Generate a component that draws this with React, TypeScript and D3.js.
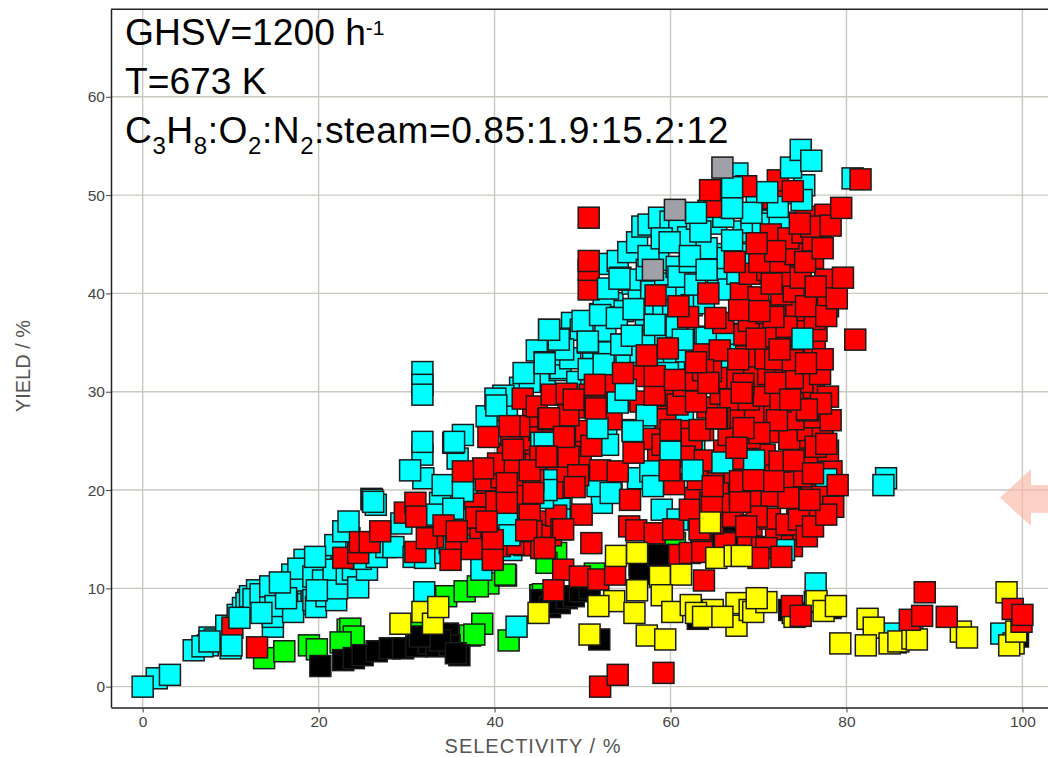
import * as d3 from "d3";
import { useEffect, useRef } from "react";

type Pt = [number, number];

const xTicks = [0, 20, 40, 60, 80, 100];
const yTicks = [0, 10, 20, 30, 40, 50, 60];

const greenPoints: Pt[] = [
  [13.8,2.9],[16.1,3.6],[18.9,4.2],[19.8,3.8],[23.3,5.8],[23.6,5.9],[24,5.1],[22.5,4.5],[31.4,5.5],[34.5,9.2],
  [36.6,9.7],[39.3,10.5],[38.1,10.2],[41.3,11.3],[41.2,11.4],[38.6,6.4],[37.2,5.2],[37.7,5.3],[41.6,4.7],
  [45.2,9.3],[45.5,9.4],[47,13.6],[45.9,12.6],[51.4,11.5],[56.5,12.4],[60.5,14.6],[45.9,15.4],
];

const blackPoints: Pt[] = [
  [20.2,2.1],[22.8,2.7],[24,2.9],[25,3.2],[26.6,3.6],[28.1,3.9],[29.6,3.9],[31.1,4.1],[32.5,4.4],[33.4,4.1],
  [34.7,5.4],[34.9,4.2],[36,3.2],[33.8,4.7],[31.5,5.1],[35.6,3.4],[45.3,8.8],[46.3,8.1],[47.4,8.5],[48.2,9],
  [49,9.2],[49.7,9.7],[50.8,10],[51.9,4.8],[56.5,11.5],[58.6,13.4],[66.5,15.4],[65.9,14.8],[99.5,5.1],[73.5,7.8],
  [63.1,6.9],[78.2,8],[85.6,4.5],
];

const cyanBackPoints: Pt[] = [
  [1.6,0.85],[3.1,1.2],[5.8,3.7],[7.4,4.2],[7.6,5],[8.2,4.8],[10,3.9],[9.5,6.2],[10.8,7.3],[11.4,8],[12,8.8],[13.6,8.3],
  [14.2,7.8],[15.5,8.6],[16.1,9.6],[16.7,10.2],[17.3,9.4],[18.2,9.8],[18.8,8.4],[19.2,9.8],[20.2,11.4],[20.8,12.3],
  [21.2,10.9],[22.6,12.8],[23.7,13.4],[18.6,12],[17,11.4],[16,9.8],[23.5,15.1],[25.2,12.8],
  [14.8,6.1],[14.8,7.1],[11.8,8.5],[12.2,9.2],
  [13,9.8],[12.6,8.9],[13.4,9.4],[14.5,9.2],[14.5,10.2],[15.1,8.2],[16.4,10.5],[17.1,7.6],[17.9,10.8],[18.4,12.9],
  [17.7,12],[19.4,8.8],[19.7,8.1],[19.4,11.2],[20.5,10.8],[20.9,9.2],[22,8.8],[22.1,10],[21.7,11.9],[23.2,11.5],
  [23.9,11.9],[24.5,10.1],[25.5,11.9],[24.8,13],[26.6,13.2],[21.9,14.4],[22.8,15.8],[27.7,14.2],[28.5,14.2],
  [26,19.1],[26.1,19],[26.5,18.5],[29.4,16.6],[30.8,13.2],[32.1,13.1],[34.4,13.6],[34.9,14.6],[37.6,14.6],[37.6,15.4],
  [38.5,11.9],[33.8,18.7],[33,17.5],[35.7,17],[31.9,21.2],[31.8,23.6],[36.4,25.6],[35.8,23.2],[35.3,24.8],
  [41.9,13.9],[43.4,14.4],[41.4,17.3],[38.3,20.4],[36.4,20],[41.4,28.1],[45.7,31.7],[47.4,32.2],[47.5,32.4],
  [42.9,30.4],[44,31],[41,29.6],[46.7,33.8],[44.8,34.2],[48.8,37],[49.8,36.3],[50,37.2],[48.6,33.4],[49.4,31],
  [52.9,43],[54,43.3],[55.2,44.2],[56.2,45.2],[56.8,46.8],[57.5,47],[58.7,47.7],[60,47.3],[61,46.7],[62,45.7],[63,47.6],
  [52.6,36.2],[53.4,39],[54.6,38.2],[55.7,41],[56.4,39.6],[57.2,37.8],[57.8,40.2],[58.6,43.4],[59.4,41],[60,39.8],
  [61.2,41.8],[61.8,40.2],[62.4,38.8],[63.2,41.2],[63.8,39],[64.8,44],[65.4,42],[66.2,43.6],[66.6,40.4],[67.6,42],
  [68.3,46.3],[68.8,44],[65.6,49.8],[64.3,48.4],[69.8,49.6],[70.2,45.6],[71.6,47.4],[73.4,47.2],[73.2,50.2],[75.2,51],
  [51.2,33.8],[53,34],[55,33],[56.6,33.8],[57.8,35.2],[59.4,35.8],[59,33],[60.4,33.2],[62.2,35],[63,32],[51,30.8],[52.4,30.2],
  [47.8,34.3],[47.3,35.4],[46.2,36.3],[50.8,32.3],[52.4,32.8],[50.6,35],[52,37.9],[54.3,41.6],[55.4,41.4],[52.4,39.7],
  [56.5,31.9],[54.9,30.9],[54.4,34.8],[55.9,38.4],[58.2,36.8],[59.2,38],[60.3,38.3],[60.7,36.8],[60.9,35.3],[61.8,34.1],
  [61.4,31.2],[57.3,42.4],[57.5,43.8],[59,45.6],[60.7,42.7],[60.9,41.7],[64.1,44.6],[65.2,47.1],[66,47.8],[64.1,42.4],
  [67,48.7],[67.6,52.2],[69.2,47.2],[70.5,47.1],[72.4,47],[62.8,40.9],[62.2,43.2],
  [63.9,35.6],[66.4,35.3],[66.2,33.1],[66.7,34.6],[69.4,34],[73.1,37.1],[64.1,35.5],[66.4,35.9],[66.4,32.9],[69.4,30.4],
  [59.7,31.9],[61.4,27.8],[62.7,24.3],[65.4,22.4],[53.3,21],[52.2,18.7],[47.6,19.3],[47.4,18.1],[52.7,25.8],[52.9,24.6],
  [80.7,51.7],[84.5,21.2],[85.5,5.4],[97.6,5.4],[76.4,8.6],[47.4,17],[45.4,19.8],[57.3,27.3],[55.7,26.1],[56.3,21.2],
];

const redBackPoints: Pt[] = [
  [10.2,6],
  [33,15.2],[35.6,14.8],[36.2,16.4],[38.4,15.2],[39.6,16.3],[40.6,14.3],[41.1,15.7],[42.6,14.5],[43.1,16.6],[44.5,14.4],
  [43.5,18.2],[45,16.8],[46.4,15.4],[47,17.4],[46.6,20.2],[45.2,21.6],[43.2,20.9],[42.4,19.4],[41.2,19.6],[39.2,19.7],
  [37.8,18.6],[39,21],[40.8,21.3],[41.5,23.7],[43.4,23.1],[44.6,22.6],[43,25.1],[45.1,26.1],[44.4,27.5],[46.6,25.1],
  [47.6,23.3],[48.7,24.4],[47.2,21.9],[49.8,23.3],[50.2,26],[49.5,28.4],[51,24.5],[50.8,29.7],[52.7,29.2],[53.3,27.2],
  [53,31],[55,29.2],[56.2,31.6],[56.6,29],[58.4,28.3],[59.6,29.6],[59.4,27.2],[60.8,28.7],[61.5,30.6],[62.6,31.2],
  [61.5,26],[62.4,25.2],[64.2,28.4],[65.7,29.8],[66.3,31.4],[64.6,32.1],[63.5,15.4],[66.2,14.6],[68.8,15.2],[70.4,14.2],
  [72,15],[73.8,14.3],[75.1,16],[62.4,17.1],[64.8,16.6],[67.1,17.3],[69.2,16.4],[71.3,17.1],[73.2,16.5],[75.5,17.6],
  [62.8,19.2],[65.6,18.8],[67.9,19.6],[69.8,18.9],[71.5,19.4],[74.4,18.7],[76.1,19.6],[78.1,19.8],[60.4,20.6],[63.1,21.1],
  [65.4,20.7],[67.3,21.8],[69.6,21],[71.9,21.6],[73.6,20.8],[75.2,21.4],[77.3,20.9],[78.3,21.9],[58.6,23.2],[61.6,23.4],
  [63.9,23],[66.1,24],[68.2,23.2],[70.7,23.6],[72.4,22.9],[74.8,24.1],[76.1,23.2],[77.9,24],[57.6,25.2],[59.1,24.6],
  [63.7,26.1],[66.6,25.6],[69,25.3],[71.2,25.9],[73.5,25.2],[75.6,26.1],[77.3,25.6],[67.4,27.4],[69.6,27.8],[71.8,27.8],
  [74,27.2],[76.4,27.4],[78.2,27.1],[66.8,29.2],[68.9,29.2],[70.6,29.6],[72.5,29],[74.4,29.8],[76.3,30.4],[67.6,31.4],
  [69.5,31.6],[71.1,31.8],[73,32],[75,31],[77,31.8],[63.6,33.8],[65.6,34.2],[68.6,33.6],[70.8,33.4],[72.8,33.8],
  [75.2,33.9],[76.4,34.6],[68.4,35.8],[70.6,36.2],[72.6,35.7],[74.6,36.4],[76.6,36.2],[66,37],[68.9,37.2],[70.9,38],
  [73.1,37.9],[74.3,38.3],[76.4,37.4],[68,40],[70,39.6],[72.6,39.9],[74,40.2],[76.8,39.2],
  [69,42],[71,42.4],[73,41.8],[74.8,41.6],[77.6,41.4],[72.4,43.2],
  [74.2,44],[76.2,43.6],[71.4,46],[73.4,45.6],[75,46.2],[77,46.2],[75.4,47.8],[77.6,48],[71.7,49.7],
  [65,48.8],[64.5,50.5],[68.6,50.9],[72.2,51.5],
  [50.7,40.4],[50.7,42.4],[50.7,43.3],[50.7,47.7],
];

const cyanFrontPoints: Pt[] = [
  [6.8,4.1],[7.6,4.6],[10.1,4.2],[11,7],[13.5,7.5],[16.3,9],[15.6,10.6],[19.8,9.8],[19.6,13.2],[23.4,16.8],[26.2,18.8],
  [31.8,32],[31.8,30.7],[31.8,29.7],[31.8,24.9],[30.4,22],[34.1,20.5],[35.4,24.9],[35.7,17],[36.4,19.9],[39.1,27.5],
  [40.1,29.3],[43.3,31.9],[45.7,33],[45.9,21],[45.5,19.2],[45.3,24.8],[45.9,20],[41.4,17.2],[41.7,15.4],[40.2,28.6],
  [47.3,35.3],[46.2,36.3],[45.7,32.9],[50.6,35.1],[50.7,32.3],[52.4,32.8],[52,37.8],[53.9,37.5],[52.9,40.5],[54.2,41.5],
  [54.4,34.8],[55.6,35.7],[55.8,38.4],[58.2,36.8],[60.7,36.6],[54,28.9],[54.9,30.2],[57.3,27.6],[51.7,26.3],
  [55.7,26],[60,23.9],[62.5,22],[65.9,22.8],[69.5,23],[57.7,21.9],[58,20.4],[51.7,20.4],[53.2,19.7],[45.7,24.8],
  [59,18],[60.8,17],[61.4,35.3],[72.9,13.9],[77.7,21.1],[84.2,20.5],[76.5,10.5],[32,9.6],[42.5,6.1],[0,0],
  [35.3,18.1],[38,17.2],
];

const redFrontPoints: Pt[] = [
  [13,4],[22.8,13.1],[24.5,13.6],[24.7,14.7],[25.8,14.7],[27,15.8],[29.8,17.7],[31,18.7],[31.1,17.3],[31,13.7],
  [32.3,15.1],[34.2,16.4],[35,12.9],[37.4,14],[37.9,17.2],[39.8,14.9],[39.8,12.9],[39.3,25.4],[41.9,25.6],[42.8,26.5],
  [40.2,18.8],[40.4,22.7],[38.7,22.2],[42.3,22.7],[42.1,24.1],[44,17.5],[44.2,15.8],[45.3,14.1],[44.4,21],[45.2,23.4],
  [43.2,29.3],[44.8,28.5],[46.5,29.7],[46.1,27.2],[48.4,27.6],[48,25.3],[46.1,23.4],[48.4,23.4],[44.4,19.7],[41.4,20.7],
  [44,22],[41.4,18.7],[35.7,15.8],[39.1,16.8],[47.6,16],[43.6,15.9],[48.2,29.8],[36.4,21.9],[41.7,26.5],
  [49,29.2],[51.4,28.5],[51.4,30.7],[46.2,27.3],[47.9,25.4],[45.9,23.4],[49.5,21.5],[49.1,20.3],[52,22],[54,21.9],[55.8,23.8],
  [51.5,28.3],[55.4,19],[49.9,17.5],[47.8,16],[51,14.6],[55.3,16.3],[56.1,15.9],[45.7,14.1],[58.2,15.6],[60.3,16],
  [62.2,18],[64.5,18.7],[63.3,16],[63.3,26.1],[65.6,27.3],[59.9,22],[60,26.1],[47.8,11.9],[49.7,11.2],[51.8,10.9],
  [53.7,11.4],[61,13.4],[62.2,13.6],[63.6,13.7],[63.8,10.8],[69.8,17.3],[74.6,17],[73.4,19.2],[67.9,18.8],[64.7,18.5],
  [68.6,16.3],[70.9,14.1],[70,13.1],[72.6,13.2],[75.5,15.3],[76.2,16.3],[77.2,19.3],[79,20.5],[78.5,18.3],[77.7,17.5],
  [76.5,24.4],[77.7,24.7],[74,23],[71.7,20.9],[76.2,21.7],[67.9,20.9],[75.6,28.1],[72.1,27.1],[65.3,27.3],[70.1,25.8],
  [68.3,26.3],[67.5,24.3],[64.8,20.4],[75.8,19],[69.4,21],[77.9,29.5],[77.1,28.8],[75.5,28.2],[73.9,31.4],[71.9,30.9],
  [68.3,30.8],[68.1,29.9],[73.6,29.2],[65.2,27.3],[62.9,29],[58.2,29.7],[58.2,31.6],[60.5,31.2],[63.7,32.2],
  [54.6,31.9],[64.3,30.9],[62.9,33],[57.3,33.7],[59.7,34.4],[67.7,33.3],[71.9,33.3],[73.9,33.2],[77.3,33.3],[75.4,32.9],
  [69.8,35.4],[72,35.6],[73.2,36.6],[71.7,37.6],[72.4,34.3],[81,35.3],[67.8,38.3],[70.1,38.2],[65.1,37.5],[62,37.6],
  [64.3,40],[60.9,38.7],[58.3,39.8],[75.4,38.7],[77.9,38.7],[77.7,37.7],[78.9,39.5],[79.6,41.6],[76.5,40.7],[71.5,41],
  [67.3,43.2],[70.1,43.2],[75.3,43.2],[71.9,44.3],[69.8,45.1],[76.2,45.4],[77.3,44.6],[76,46.8],[78.2,46.9],[79.4,48.7],
  [74.7,47.1],
];

// the squares that sit on top of the red ones in the upper part of the cloud
const cyanTopPoints: Pt[] = [
  [75,35.4],[67,45.4],[59.9,45.2],[62.2,43.8],[64.1,42.4],[63.4,46.3],[62.9,48.2],[72.2,48.8],[74.9,49.5],
  [69.2,48.2],[67,48.7],[71,50.3],[67,50.8],[73.7,52.8],[74.8,54.6],[76,53.5],
];

const grayPoints: Pt[] = [[65.9,52.8],[60.5,48.5],[58,42.4]];

const yellowPoints: Pt[] = [
  [29.3,6.4],[31.8,7.6],[33,6.4],[33.6,8.1],[45,7.5],[53.8,13.3],[56.2,13.6],[64.5,16.7],[65.2,13.1],[67.3,13.3],[68.1,13.3],
  [58.8,11.2],[61.2,11.4],[56.2,9.8],[53.6,8.7],[51.8,8.2],[59,9.3],[55.9,7.5],[60.2,7.6],[62.3,8.3],[50.8,5.3],
  [57.3,5.2],[59.4,4.8],[64.8,7.8],[67.5,8.5],[67.5,6.2],[62.9,7.5],[63.7,7.1],[69,7.8],[69.4,7.6],[70.9,8.6],
  [69.8,9],[65.9,7.1],[73.9,7.5],[74.1,7.1],[76.6,8.7],[77.4,7.7],[78.8,8.2],[82.4,6.9],[83.1,6],[79.3,4.4],
  [82.2,4.2],[84.9,4.4],[85.9,4.6],[87.5,4.9],[88,4.8],[93,5.6],[93.7,5],[98.2,9.6],[99,4.4],[98.5,4.2],[99.3,5.6],
];

const redTopPoints: Pt[] = [
  [46.7,9.8],[73.9,50.4],[81.6,51.6],[73.8,8.2],[74.8,7.2],[88.9,9.6],[87.2,6.8],[88.6,7.2],[91.4,7.1],[99.9,6.6],[98.9,7.9],[100,7.3],
  [52,0],[54,1.2],[59.2,1.4],
];

// back to front, same order the points overlap in the picture
const layers: { points: Pt[]; fill: string }[] = [
  { points: greenPoints, fill: "#00ff00" },
  { points: blackPoints, fill: "#000000" },
  { points: cyanBackPoints, fill: "#00ffff" },
  { points: redBackPoints, fill: "#ff0000" },
  { points: cyanFrontPoints, fill: "#00ffff" },
  { points: redFrontPoints, fill: "#ff0000" },
  { points: cyanTopPoints, fill: "#00ffff" },
  { points: grayPoints, fill: "#a0a0a8" },
  { points: yellowPoints, fill: "#ffff00" },
  { points: redTopPoints, fill: "#ff0000" },
];

export default function App() {
  const ref = useRef<SVGSVGElement | null>(null);

  useEffect(() => {
    const width = 1048;
    const svg = d3.select(ref.current);
    svg.selectAll("*").remove();

    const x = d3.scaleLinear().domain([-3.6, 103]).range([111, 1048.8]);
    const y = d3.scaleLinear().domain([-2.1, 68.9]).range([707.3, 9.3]);
    const font = "'Liberation Sans', Arial, sans-serif";

    // gridlines
    const grid = svg.append("g").attr("stroke", "#c8c8c0").attr("stroke-width", 1.4);
    grid.selectAll(".gx").data(xTicks).join("line").attr("x1", (d) => x(d)).attr("x2", (d) => x(d)).attr("y1", 9).attr("y2", 707);
    grid.selectAll(".gy").data(yTicks).join("line").attr("x1", 111).attr("x2", width).attr("y1", (d) => y(d)).attr("y2", (d) => y(d));

    // markers
    const size = 21;
    layers.forEach((layer) => {
      svg.append("g")
        .selectAll("rect")
        .data(layer.points)
        .join("rect")
        .attr("x", (d) => x(d[0]) - size / 2)
        .attr("y", (d) => y(d[1]) - size / 2)
        .attr("width", size)
        .attr("height", size)
        .attr("fill", layer.fill)
        .attr("stroke", "#1a1a1a")
        .attr("stroke-width", 1.5);
    });

    // axes
    const axisX = svg.append("g").attr("transform", "translate(0,707.5)")
      .call(d3.axisBottom(x).tickValues(xTicks).tickSize(5).tickSizeOuter(0).tickPadding(3).tickFormat((d) => String(d)));
    const axisY = svg.append("g").attr("transform", "translate(111,0)")
      .call(d3.axisLeft(y).tickValues(yTicks).tickSize(5).tickSizeOuter(0).tickPadding(1).tickFormat((d) => String(d)));
    [axisX, axisY].forEach((a) => {
      a.attr("font-family", font).attr("font-size", 15.5);
      a.selectAll("text").attr("fill", "#444");
      a.select(".domain").attr("stroke", "#222").attr("stroke-width", 1.5);
      a.selectAll("line").attr("stroke", "#444");
    });
    svg.append("line").attr("x1", 111).attr("x2", width).attr("y1", 9.3).attr("y2", 9.3).attr("stroke", "#222").attr("stroke-width", 1.5);

    svg.append("text").attr("x", 533).attr("y", 752.5).attr("text-anchor", "middle").attr("letter-spacing", 1)
      .attr("font-family", font).attr("font-size", 20).attr("fill", "#555").text("SELECTIVITY / %");
    svg.append("text").attr("transform", "translate(30,366) rotate(-90)").attr("text-anchor", "middle")
      .attr("font-family", font).attr("font-size", 20).attr("fill", "#555").text("YIELD / %");

    // arrow at the right edge
    const arrow = d3.line()([[1000, 497.7], [1031, 469], [1031, 485], [1048, 485], [1048, 512.7], [1031, 512.7], [1031, 526]]);
    svg.append("path").attr("d", arrow + "Z").attr("fill", "#fbb8a6").attr("fill-opacity", 0.65);

    // conditions text
    const note = svg.append("g").attr("font-family", font).attr("font-size", 37.2).attr("fill", "#000");
    const line1 = note.append("text").attr("x", 125).attr("y", 45);
    line1.append("tspan").text("GHSV=1200 h");
    line1.append("tspan").attr("dy", -10).attr("font-size", 21).text("-1");
    note.append("text").attr("x", 125).attr("y", 94).text("T=673 K");
    const line3 = note.append("text").attr("x", 125).attr("y", 143).attr("letter-spacing", 0.55);
    const parts: [string, boolean][] = [
      ["C", false], ["3", true], ["H", false], ["8", true], [":O", false], ["2", true], [":N", false], ["2", true],
      [":steam=0.85:1.9:15.2:12", false],
    ];
    let shifted = false;
    parts.forEach(([t, sub]) => {
      const span = line3.append("tspan").text(t);
      if (sub) span.attr("font-size", 24);
      if (sub !== shifted) span.attr("dy", sub ? 10.5 : -10.5);
      shifted = sub;
    });
  }, []);

  return <svg ref={ref} width={1048} height={757} style={{ position: "absolute", left: 0, top: 0, background: "#fff" }} />;
}
